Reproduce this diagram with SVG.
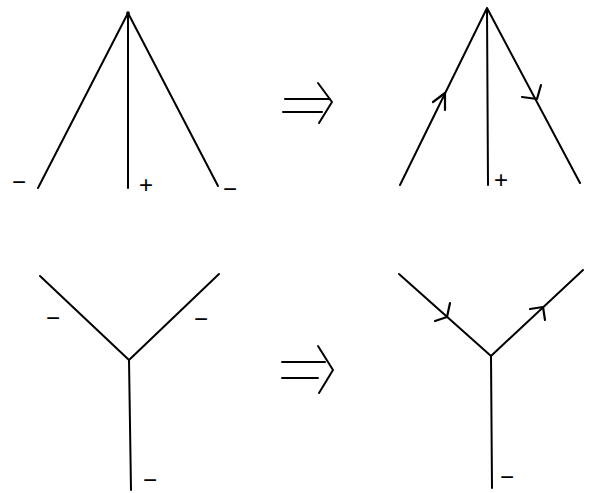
<svg xmlns="http://www.w3.org/2000/svg" width="589" height="493" viewBox="0 0 589 493">
<style>
.ln{stroke:#000;stroke-width:2;fill:none;stroke-linecap:round;stroke-linejoin:round}
.ah{stroke:#000;stroke-width:2.2;fill:none;stroke-linecap:round;stroke-linejoin:round}
.sg{font-family:"Liberation Sans",Arial,sans-serif;font-size:24px;fill:#000;text-anchor:middle}
</style>
<rect width="589" height="493" fill="#fff"/>
<g id="connectors">
  <!-- top-left fan -->
  <path class="ln" d="M38,188 L128,13 L218,186 M128,13 L128,188"/>
  <circle cx="128" cy="13" r="1.8" fill="#000"/>
  <!-- top-right fan -->
  <path class="ln" d="M400,185 L487,8 L580,183 M487,8 L488,185"/>
  <path class="ah" d="M433,102 L445,93 L445,110"/>
  <path class="ah" d="M522,97 L537,99 L541,85"/>
  <!-- bottom-left Y -->
  <path class="ln" d="M40,276 L129,360 L219,274 M129,360 L131,490"/>
  <!-- bottom-right Y -->
  <path class="ln" d="M399,274 L491,356 L583,270 M491,356 L492,488"/>
  <path class="ah" d="M435,321 L447,317 L450,303"/>
  <path class="ah" d="M530,309 L543,307 L545,320"/>
  <!-- implication arrows -->
  <path class="ln" d="M285,99 L330,99 M283,112 L322,112 M318,83 L332,102 L319,123"/>
  <path class="ln" d="M282,362 L325,362 M282,378 L318,378 M318,346 L333,370 L319,393"/>
</g>
<g id="labels-top-left">
  <text class="sg" x="19" y="190">−</text>
  <text class="sg" x="146" y="193">+</text>
  <text class="sg" x="230" y="197">−</text>
</g>
<g id="labels-top-right">
  <text class="sg" x="501" y="188">+</text>
</g>
<g id="labels-bottom-left">
  <text class="sg" x="53" y="326">−</text>
  <text class="sg" x="201" y="327">−</text>
  <text class="sg" x="150" y="488">−</text>
</g>
<g id="labels-bottom-right">
  <text class="sg" x="507" y="485">−</text>
</g>
</svg>
